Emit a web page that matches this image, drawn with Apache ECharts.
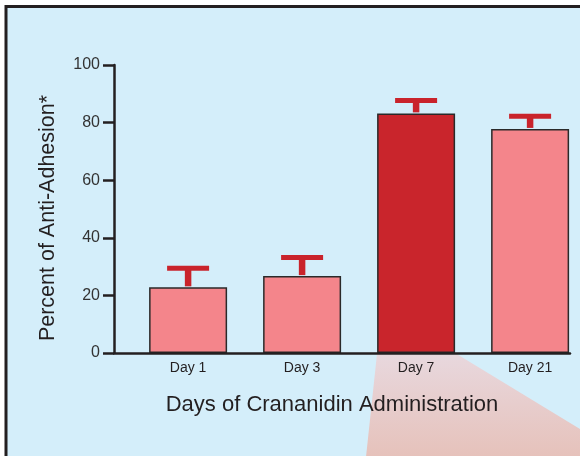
<!DOCTYPE html>
<html>
<head>
<meta charset="utf-8">
<script src="https://cdn.jsdelivr.net/npm/echarts@6/dist/echarts.min.js"></script>
<style>
html,body{margin:0;padding:0;background:#ffffff;}
#chart{width:580px;height:456px;}
</style>
</head>
<body>
<div id="chart"></div>
<script>
var categories = ['Day 1', 'Day 3', 'Day 7', 'Day 21'];
var values = [22.8, 26.7, 83.2, 77.8];
var upperErrors = [29.4, 33.2, 87.7, 82.2];
var highlightIndex = 2;
var yTicks = [0, 20, 40, 60, 80, 100];

var FONT = '"Liberation Sans", Arial, sans-serif';
var AXIS_COLOR = '#231f20';
var ERR_COLOR = '#c9232b';
var LIGHT = '#f4858b';
var DARK = '#c9252c';
var BAR_W = 78;
var catPositions = categories.map(function (c, i) { return i; });

var chart = echarts.init(document.getElementById('chart'));

var barData = values.map(function (v, i) {
  return {
    value: [catPositions[i], v],
    itemStyle: { color: i === highlightIndex ? DARK : LIGHT }
  };
});
var errData = values.map(function (v, i) { return [catPositions[i], v, upperErrors[i]]; });

var option = {
  animation: false,
  backgroundColor: '#ffffff',
  grid: { left: 114, right: 10, top: 65, bottom: 103, containLabel: false },
  xAxis: {
    type: 'value',
    min: -0.65,
    max: 3.35,
    name: 'Days of Crananidin Administration',
    nameLocation: 'middle',
    nameGap: 41,
    nameTextStyle: { fontFamily: FONT, fontSize: 22, color: '#231f20', padding: [0, 20, 0, 0] },
    axisLine: { show: true, onZero: false, lineStyle: { color: AXIS_COLOR, width: 2.5 } },
    axisTick: { show: false },
    axisLabel: {
      fontFamily: FONT, fontSize: 14, color: '#231f20', margin: 8,
      customValues: catPositions,
      formatter: function (v) { return categories[Math.round(v)]; }
    },
    splitLine: { show: false },
    z: 3
  },
  yAxis: {
    type: 'value',
    min: 0,
    max: 100,
    interval: 20,
    name: 'Percent of Anti-Adhesion*',
    nameLocation: 'middle',
    nameGap: 55,
    nameRotate: 90,
    nameTextStyle: { fontFamily: FONT, fontSize: 21.5, color: '#231f20', padding: [0, 18, 0, 0] },
    axisLine: { show: true, onZero: false, lineStyle: { color: AXIS_COLOR, width: 2.5 } },
    axisTick: { show: true, inside: false, length: 11, lineStyle: { color: AXIS_COLOR, width: 2.5 } },
    axisLabel: { fontFamily: FONT, fontSize: 16, color: '#333333', margin: 14 },
    splitLine: { show: false },
    z: 3
  },
  series: [
    {
      type: 'bar',
      data: barData,
      barWidth: BAR_W,
      itemStyle: { borderColor: '#2a2a2a', borderWidth: 1.5 },
      z: 2
    },
    {
      type: 'custom',
      data: errData,
      z: 4,
      renderItem: function (params, api) {
        var idx = api.value(0);
        var top = api.coord([idx, api.value(2)]);
        var base = api.coord([idx, api.value(1)]);
        var capW = 42, capH = 5, stemW = 6.5;
        return {
          type: 'group',
          children: [
            {
              type: 'rect',
              shape: { x: top[0] - stemW / 2, y: top[1], width: stemW, height: base[1] - top[1] - 1 },
              style: { fill: ERR_COLOR }
            },
            {
              type: 'rect',
              shape: { x: top[0] - capW / 2, y: top[1] - capH / 2, width: capW, height: capH },
              style: { fill: ERR_COLOR }
            }
          ]
        };
      }
    }
  ]
};
chart.setOption(option);

// decorative panel and projection wedge from the highlighted bar
var c = chart.convertToPixel({ xAxisIndex: 0 }, catPositions[highlightIndex]);
var y0 = chart.convertToPixel({ yAxisIndex: 0 }, 0);
var left = c - BAR_W / 2, right = c + BAR_W / 2;
chart.setOption({
  graphic: {
    elements: [
      {
        type: 'rect',
        z: -20,
        silent: true,
        shape: { x: 6, y: 6.5, width: 600, height: 480 },
        style: { fill: '#d4eefa', stroke: '#231f20', lineWidth: 3 }
      },
      {
        type: 'polygon',
        z: -10,
        silent: true,
        shape: { points: [[left, y0], [right, y0], [580, 429], [580, 456], [left - 11, 456]] },
        style: {
          fill: new echarts.graphic.LinearGradient(0, 0, 0, 1, [
            { offset: 0, color: '#e8d8de' },
            { offset: 1, color: '#e6c2bb' }
          ])
        }
      }
    ]
  }
});
</script>
</body>
</html>
